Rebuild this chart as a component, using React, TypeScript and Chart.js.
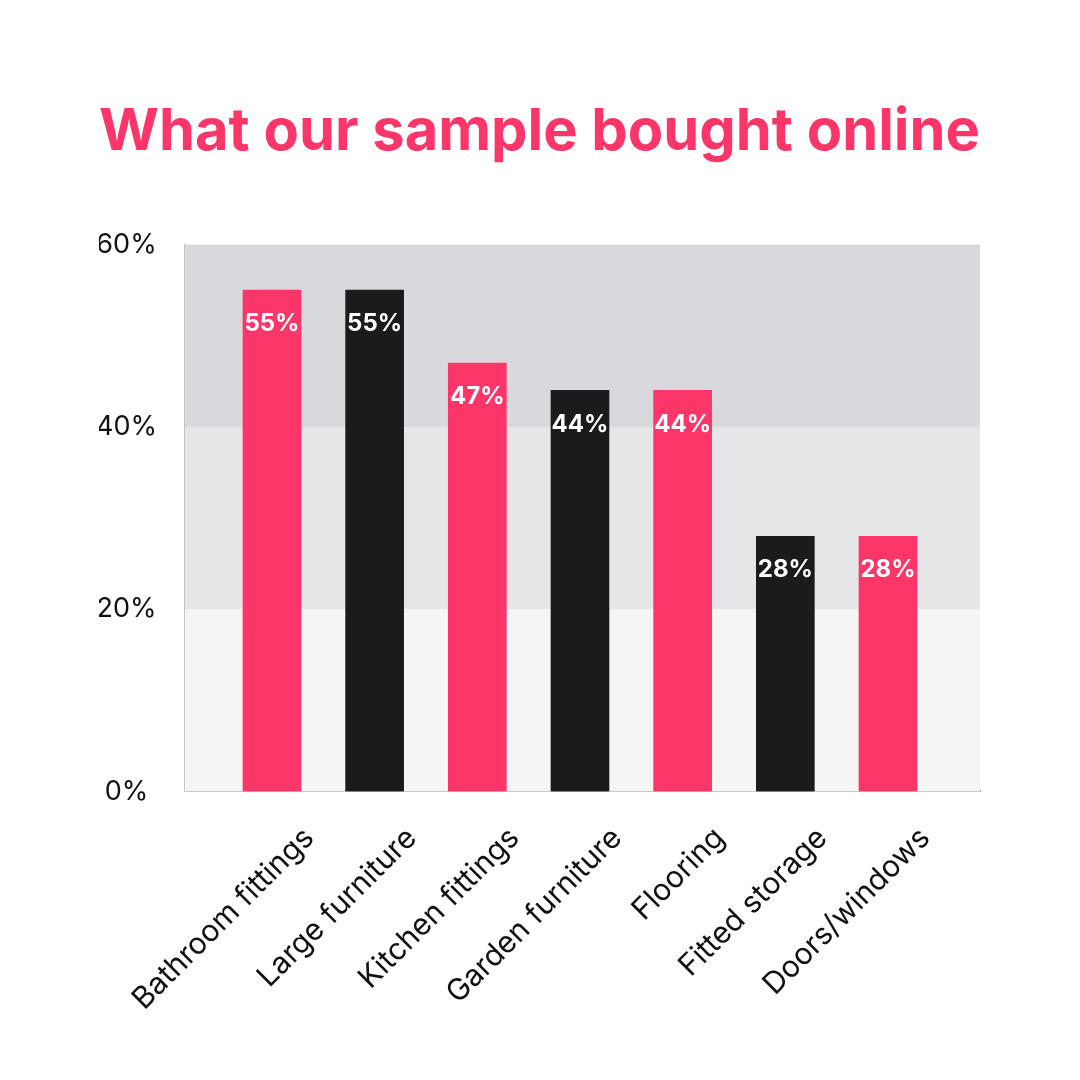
import React, { useEffect, useRef } from 'react';
import { Chart, registerables } from 'chart.js';

Chart.register(...registerables);

const categories = [
  'Bathroom fittings',
  'Large furniture',
  'Kitchen fittings',
  'Garden furniture',
  'Flooring',
  'Fitted storage',
  'Doors/windows',
];
const shares = [55, 55, 47, 44, 44, 28, 28];
const yTicks = [0, 20, 40, 60];

const PINK = '#fc3669';
const BLACK = '#1b1b1d';
const barColors = categories.map((_, i) => (i % 2 === 0 ? PINK : BLACK));

// grey bands behind the bars, one per 20% step
const bandColors = ['#f5f5f6', '#e6e6e9', '#d9d8dd'];

const bandsPlugin = {
  id: 'bands',
  beforeDatasetsDraw(chart: any) {
    const { ctx, chartArea, scales } = chart;
    const y = scales.y;
    ctx.save();
    for (let i = 0; i < yTicks.length - 1; i++) {
      const top = y.getPixelForValue(yTicks[i + 1]);
      const bottom = y.getPixelForValue(yTicks[i]);
      ctx.fillStyle = bandColors[i];
      ctx.fillRect(chartArea.left, top, chartArea.right - chartArea.left, bottom - top);
    }
    ctx.restore();
  },
};

const valueLabelPlugin = {
  id: 'valueLabels',
  afterDatasetsDraw(chart: any) {
    const { ctx } = chart;
    const meta = chart.getDatasetMeta(0);
    ctx.save();
    ctx.fillStyle = '#ffffff';
    ctx.font = 'bold 24px Inter';
    ctx.textAlign = 'center';
    ctx.textBaseline = 'middle';
    meta.data.forEach((bar: any, i: number) => {
      ctx.fillText(shares[i] + '%', bar.x, bar.y + 34);
    });
    ctx.restore();
  },
};

const App: React.FC = () => {
  const canvasRef = useRef<HTMLCanvasElement>(null);

  useEffect(() => {
    document.body.style.margin = '0';
    if (!canvasRef.current) return;

    const chart = new Chart(canvasRef.current, {
      type: 'bar',
      data: {
        datasets: [
          {
            data: shares.map((v, i) => ({ x: i, y: v })),
            backgroundColor: barColors,
            barThickness: 58,
          },
        ],
      },
      options: {
        animation: false,
        responsive: false,
        layout: { padding: { left: 99, right: 100, bottom: 34 } },
        plugins: {
          legend: { display: false },
          tooltip: { enabled: false },
          title: {
            display: true,
            text: 'What our sample bought online',
            color: PINK,
            font: { family: 'Inter', size: 58, weight: 'bold' },
            padding: { top: 98, bottom: 77 },
          },
        },
        scales: {
          x: {
            type: 'linear',
            offset: false,
            min: -0.847,
            max: 6.896,
            grid: { display: false, drawTicks: false },
            border: { display: true, color: '#a9a9b3', width: 2 },
            afterFit: (scale: any) => {
              // rotated labels should not push the plot area inwards
              scale.paddingLeft = 0;
              scale.paddingRight = 0;
            },
            ticks: {
              stepSize: 1,
              includeBounds: false,
              autoSkip: false,
              minRotation: 45,
              maxRotation: 45,
              labelOffset: 37,
              padding: 29,
              color: '#111111',
              font: { family: 'Inter', size: 30 },
              callback: (v: any) => (Number.isInteger(v) ? categories[v] : ''),
            },
          },
          y: {
            min: 0,
            max: 60,
            grid: { display: false, drawTicks: false },
            border: { display: true, color: '#c4c4ca', width: 2 },
            afterFit: (scale: any) => {
              scale.width = 86;
            },
            ticks: {
              stepSize: 20,
              padding: 28,
              crossAlign: 'center',
              color: '#111111',
              font: { family: 'Inter', size: 27 },
              callback: (v: any) => v + '%',
            },
          },
        },
      },
      plugins: [bandsPlugin, valueLabelPlugin],
    });

    return () => chart.destroy();
  }, []);

  return (
    <div style={{ width: 1080, height: 1080, background: '#ffffff' }}>
      <canvas ref={canvasRef} width={1080} height={1080} />
    </div>
  );
};

export default App;
